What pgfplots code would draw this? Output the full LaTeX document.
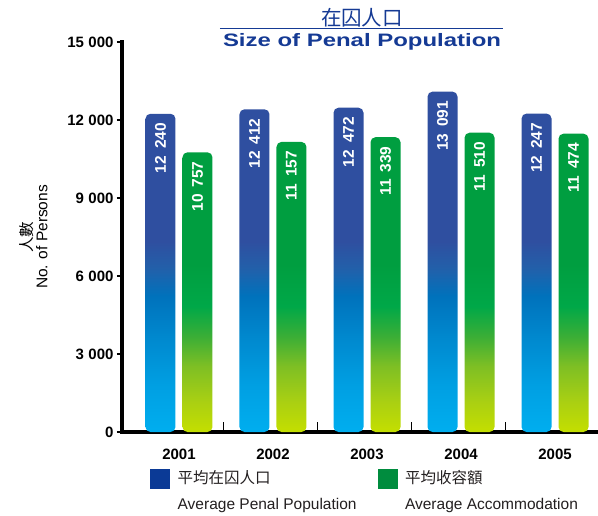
\documentclass[border=0pt]{standalone}
\usepackage{fontspec}
\setmainfont{Liberation Sans}
\newfontfamily\cjk{Noto Sans CJK TC}
\newfontfamily\widefont{Liberation Sans}[FakeStretch=1.33]
\usepackage{pgfplots}
\pgfplotsset{compat=1.18}

\definecolor{bTop}{HTML}{2F4FA0}
\definecolor{bMid1}{HTML}{2260AA}
\definecolor{bMid2}{HTML}{0072BC}
\definecolor{bMid3}{HTML}{0088CE}
\definecolor{bMid4}{HTML}{009FE2}
\definecolor{bBot}{HTML}{00AEEF}
\definecolor{gTop}{HTML}{009E40}
\definecolor{gMid1}{HTML}{00A848}
\definecolor{gMid2}{HTML}{3AAE36}
\definecolor{gMid3}{HTML}{7EBF24}
\definecolor{gMid4}{HTML}{AAD012}
\definecolor{gBot}{HTML}{C4DF00}
\definecolor{legblue}{HTML}{0B3A96}
\definecolor{leggreen}{HTML}{008C3E}
\definecolor{tblue}{HTML}{153A94}
\definecolor{txt}{HTML}{231F20}

\pgfdeclareverticalshading{blueshade}{100bp}{color(0bp)=(bBot); color(25bp)=(bBot); color(32bp)=(bMid4); color(39bp)=(bMid3); color(45bp)=(bMid2); color(49bp)=(bMid1); color(53bp)=(bTop); color(100bp)=(bTop)}
\pgfdeclareverticalshading{greenshade}{100bp}{color(0bp)=(gBot); color(25bp)=(gBot); color(30bp)=(gMid4); color(36bp)=(gMid3); color(41bp)=(gMid2); color(46bp)=(gMid1); color(53bp)=(gTop); color(100bp)=(gTop)}

\makeatletter
\newdimen\rrxa \newdimen\rrya \newdimen\rrxb \newdimen\rryb
\def\pgfpathrectanglecorners#1#2{%
  \pgf@process{#1}\rrxa=\pgf@x \rrya=\pgf@y
  \pgf@process{#2}\rrxb=\pgf@x \rryb=\pgf@y
  \pgfpathmoveto{\pgfqpoint{\dimexpr(\rrxa+\rrxb)/2\relax}{\rrya}}%
  \pgfpathlineto{\pgfqpoint{\rrxa}{\rrya}}%
  \pgfpathlineto{\pgfqpoint{\rrxa}{\rryb}}%
  \pgfpathlineto{\pgfqpoint{\rrxb}{\rryb}}%
  \pgfpathlineto{\pgfqpoint{\rrxb}{\rrya}}%
  \pgfpathlineto{\pgfqpoint{\dimexpr(\rrxa+\rrxb)/2\relax}{\rrya}}%
  \pgfpathclose}
\makeatother

\begin{document}
\begin{tikzpicture}
\useasboundingbox (-122pt,-83pt) rectangle (476pt,432pt);
\begin{axis}[
  scale only axis, width=476pt, height=390pt,
  xmin=0.394, xmax=5.457, ymin=0, ymax=15000,
  axis lines*=left,
  axis line style={-, line width=4pt, line cap=rect, black},
  ybar, bar width=30pt,
  ytick={0,3000,...,15000},
  scaled y ticks=false,
  xtick={1,2,3,4,5}, xticklabels={2001,2002,2003,2004,2005},
  xtick style={draw=none},
  ytick style={line width=2pt, black},
  tick align=outside, major tick length=5pt,
  extra x ticks={1.47,2.47,3.47,4.47}, extra x tick labels={},
  extra x tick style={tick align=inside, major tick length=10pt, xtick style={draw=black, line width=1.2pt}},
  /pgf/number format/assume math mode=true,
  /pgf/number format/1000 sep={\hspace{0.3em}},
  yticklabel style={font=\bfseries\fontsize{15}{15}\selectfont, text=black},
  xticklabel style={font=\bfseries\fontsize{15}{16}\selectfont, text=black, yshift=-8pt},
  ylabel={{\cjk 人數}\\No. of Persons},
  ylabel style={at={(axis description cs:-0.186,0.5)}, anchor=center, align=center, font=\fontsize{15.5}{15}\selectfont, text=black},
  nodes near coords={\pgfmathprintnumber[1000 sep={\hspace{0.45em}}]{\pgfplotspointmeta}},
  every node near coord/.append style={rotate=90, anchor=east, inner xsep=9pt, text=white, font=\bfseries\fontsize{15.5}{15}\selectfont},
  legend style={draw=none, fill=none, legend columns=2, at={(rel axis cs:0.059,-0.0935)}, anchor=north west, inner sep=0pt,
     font=\fontsize{15.5}{26}\selectfont, text=txt, cells={anchor=west, align=left},
     /tikz/every odd column/.append style={column sep=6pt},
     /tikz/every even column/.append style={column sep=19pt}},
]
\addplot[forget plot, bar shift=-18.5pt, draw=none, shade, shading=blueshade, rounded corners=5pt]
  coordinates {(1,12240) (2,12412) (3,12472) (4,13091) (5,12247)};
\addplot[forget plot, bar shift=18.5pt, draw=none, shade, shading=greenshade, rounded corners=5pt]
  coordinates {(1,10757) (2,11157) (3,11339) (4,11510) (5,11474)};
\addlegendimage{legend image code/.code={\fill[legblue] (0pt,3pt) rectangle (19pt,22pt);}}
\addlegendentry{{\cjk 平均在囚人口}\\Average Penal Population}
\addlegendimage{legend image code/.code={\fill[leggreen] (0pt,3pt) rectangle (19pt,22pt);}}
\addlegendentry{{\cjk 平均收容額}\\Average Accommodation}
\end{axis}
\node[anchor=base, text=tblue, font=\cjk\fontsize{20.5}{20}\selectfont] at (240pt,406.5pt) {在囚人口};
\draw[tblue, line width=1pt] (98pt,403.5pt) -- (381pt,403.5pt);
\node[anchor=base, text=tblue, font=\widefont\bfseries\fontsize{18}{18}\selectfont] at (240pt,385pt) {Size of Penal Population};
\end{tikzpicture}
\end{document}
